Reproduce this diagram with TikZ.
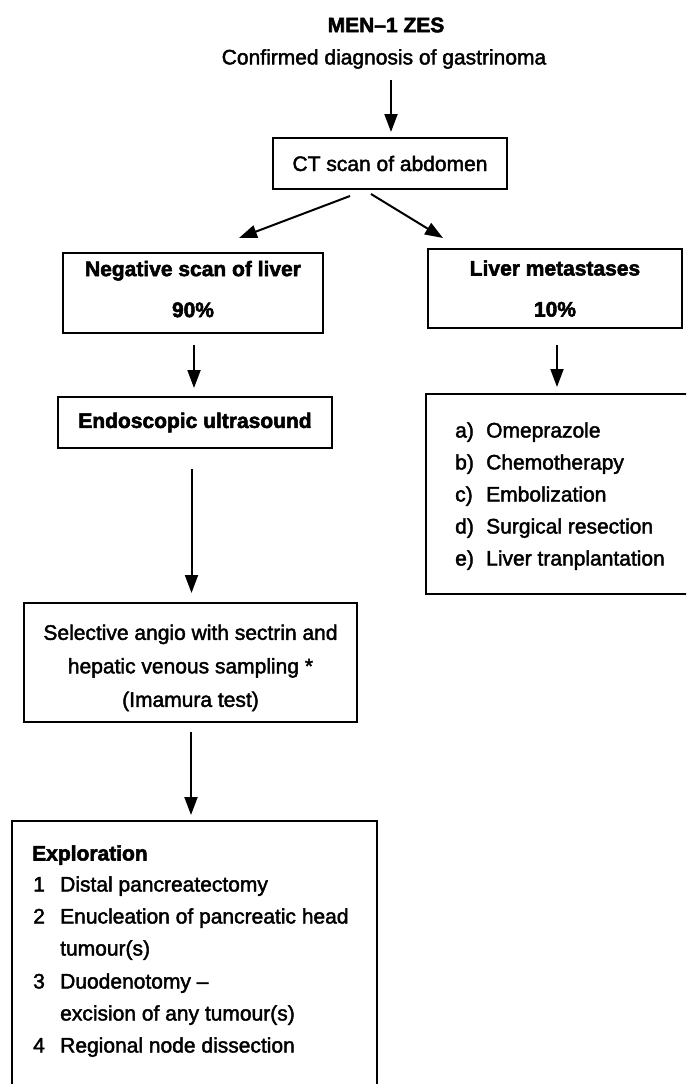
\documentclass[tikz,border=0pt]{standalone}
\usepackage{fontspec}
\setmainfont{Liberation Sans}[FakeBold=2, BoldFeatures={FakeBold=2.5}]
\usetikzlibrary{arrows.meta}
\begin{document}
\begin{tikzpicture}[x=1pt,y=-1pt,
  every node/.style={font=\fontsize{21}{25}\selectfont, inner sep=0pt},
  box/.style={draw, line width=2pt, rectangle, anchor=north west, align=center},
  arr/.style={line width=2pt, -{Triangle[length=18pt,width=13pt]}},
  head/.style={font=\fontsize{21}{25}\selectfont\bfseries},
  two/.style={font=\fontsize{21}{41}\selectfont\bfseries},
  three/.style={font=\fontsize{21}{33.5}\selectfont},
  item/.style={anchor=west, text height=15pt, text depth=4pt},
]
\useasboundingbox (0,0) rectangle (686,1084);
\clip (0,0) rectangle (686,1084);

% headings
\node[head] (men) at (386,25) {MEN–1 ZES};
\node (conf) at (384,59) {Confirmed diagnosis of gastrinoma};

% boxes
\node[box, minimum width=234pt, minimum height=51pt] (ct) at (272,137) {CT scan of abdomen};
\node[box, two, minimum width=260pt, minimum height=80pt] (neg) at (62,252) {Negative scan of liver\\90\%\rule[-8pt]{0pt}{0pt}};
\node[box, two, minimum width=254pt, minimum height=79pt] (liv) at (427,248) {Liver metastases\\10\%};
\node[box, head, minimum width=274pt, minimum height=51pt] (endo) at (57,396) {Endoscopic ultrasound};
\node[box, minimum width=300pt, minimum height=200pt] (list) at (425,393) {};
\node[box, three, minimum width=333pt, minimum height=119pt] (sel) at (23,602) {\rule{0pt}{26pt}Selective angio with sectrin and\\hepatic venous sampling *\\(Imamura test)};
\node[box, minimum width=365pt, minimum height=300pt] (expl) at (11,820) {};

% list of treatments
\node[item] (la) at (455,432) {a)};  \node[item] (ta) at (486,432) {Omeprazole};
\node[item] (lb) at (455,464) {b)};  \node[item] (tb) at (486,464) {Chemotherapy};
\node[item] (lc) at (455,496) {c)};  \node[item] (tc) at (486,496) {Embolization};
\node[item] (ld) at (455,528) {d)};  \node[item] (td) at (486,528) {Surgical resection};
\node[item] (le) at (455,560) {e)};  \node[item] (te) at (486,560) {Liver tranplantation};

% exploration
\node[item, head] (ex) at (32,855) {Exploration};
\node[item] (n1) at (33,886) {1};  \node[item] (e1) at (60,886) {Distal pancreatectomy};
\node[item] (n2) at (33,918) {2};  \node[item] (e2) at (60,918) {Enucleation of pancreatic head};
\node[item] (e2b) at (60,950) {tumour(s)};
\node[item] (n3) at (33,983) {3};  \node[item] (e3) at (60,983) {Duodenotomy –};
\node[item] (e3b) at (60,1015) {excision of any tumour(s)};
\node[item] (n4) at (33,1047) {4};  \node[item] (e4) at (60,1047) {Regional node dissection};

% connectors
\coordinate (a1) at ([xshift=1pt,yshift=5pt]ct.north);
\draw[arr] ([yshift=-11pt]conf.south -| a1) -- (a1);
\draw[arr] ([xshift=-40pt,yshift=-6pt]ct.south) -- ([xshift=46pt,yshift=14pt]neg.north);
\draw[arr] ([xshift=-19pt,yshift=-4pt]ct.south) -- ([xshift=16pt,yshift=10pt]liv.north west);
\coordinate (a4) at ([xshift=-1pt,yshift=8pt]endo.north);
\draw[arr] ([yshift=-11pt]neg.south -| a4) -- (a4);
\coordinate (a5) at ([xshift=132pt,yshift=6pt]list.north west);
\draw[arr] ([yshift=-16pt]liv.south -| a5) -- (a5);
\coordinate (a6) at ([xshift=1pt,yshift=9pt]sel.north);
\draw[arr] ([yshift=-20pt]endo.south -| a6) -- (a6);
\coordinate (a7) at ([xshift=-3.5pt,yshift=5pt]expl.north);
\draw[arr] ([yshift=-9pt]sel.south -| a7) -- (a7);
\end{tikzpicture}
\end{document}
